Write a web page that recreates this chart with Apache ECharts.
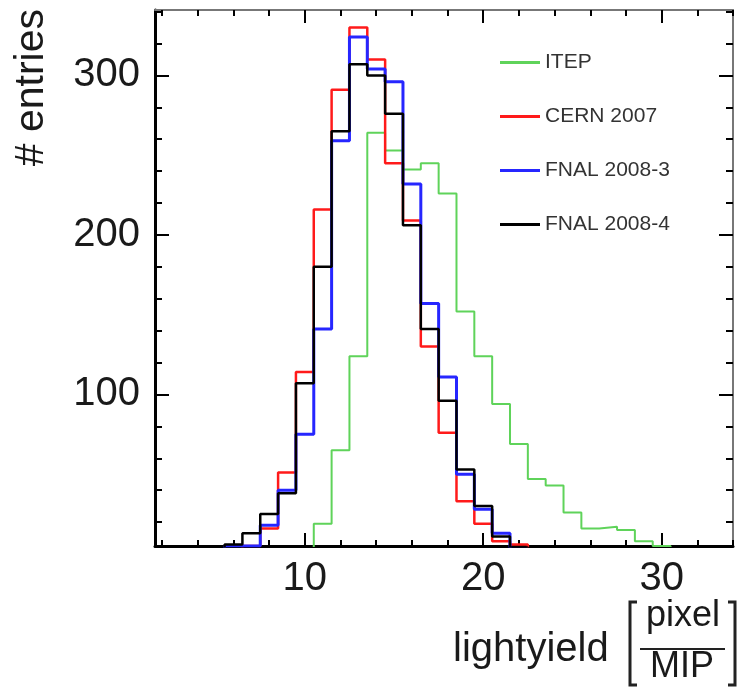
<!DOCTYPE html>
<html>
<head>
<meta charset="utf-8">
<script src="https://cdn.jsdelivr.net/npm/echarts@6/dist/echarts.min.js"></script>
<style>
  html, body { margin: 0; padding: 0; background: #fff; }
  #main { width: 739px; height: 687px; }
</style>
</head>
<body>
<div id="main"></div>
<script>
var chartDom = document.getElementById('main');
var myChart = echarts.init(chartDom);
var option;

// bin centres (bin width 1)
const binCenters = [5, 6, 7, 8, 9, 10, 11, 12, 13, 14, 15, 16, 17, 18, 19, 20,
  21, 22, 23, 24, 25, 26, 27, 28, 29, 30, 31, 32];
const itep = [0, 0, 0, 1, 1, 2, 19, 65, 124, 264, 253, 241, 245, 226, 152, 124,
  94, 69, 47, 43, 26, 16, 17, 15, 8, 5, 2, 0];
const cern2007 = [0, 2, 5, 16, 51, 114, 216, 291, 330, 310, 245, 209, 130, 76, 33, 19,
  8, 6, 0, 0, 0, 0, 0, 0, 0, 0, 0, 0];
const fnal2008_3 = [0, 5, 5, 18, 40, 75, 141, 259, 324, 304, 296, 232, 157, 111, 50, 28,
  13, 3, 0, 0, 0, 0, 0, 0, 0, 0, 0, 0];
const fnal2008_4 = [0, 6, 13, 25, 38, 107, 180, 265, 307, 300, 276, 206, 141, 96, 53, 30,
  11, 4, 0, 0, 0, 0, 0, 0, 0, 0, 0, 0];

const xMajor = [10, 20, 30];
const xMinor = [2, 4, 6, 8, 10, 12, 14, 16, 18, 20, 22, 24, 26, 28, 30, 32, 34];
const yMajor = [100, 200, 300];
const yMinor = [20, 40, 60, 80, 100, 120, 140, 160, 180, 200, 220, 240, 260, 280, 300, 320, 340];

const font = 'Liberation Sans, Arial, Helvetica, sans-serif';

function histData(vals) {
  const pts = binCenters.map((c, i) => [c - 0.5, vals[i]]);
  pts.push([binCenters[binCenters.length - 1] + 0.5, 0]);
  return pts;
}

function xAx(pos, ticks, len, lineShow, lineColor, lineWidth, labels) {
  return {
    type: 'value', position: pos, min: 1.6, max: 34,
    axisLine: { show: lineShow, onZero: false, lineStyle: { color: lineColor, width: lineWidth } },
    axisTick: { show: true, inside: true, length: len, customValues: ticks,
      lineStyle: { color: '#000', width: 2 } },
    axisLabel: labels ? { show: true, customValues: xMajor, fontSize: 40, margin: 13,
      color: '#1a1a1a', fontFamily: font } : { show: false },
    splitLine: { show: false }
  };
}

function yAx(pos, ticks, len, lineShow, lineColor, lineWidth, labels) {
  return {
    type: 'value', position: pos, min: 5, max: 341,
    axisLine: { show: lineShow, onZero: false, lineStyle: { color: lineColor, width: lineWidth } },
    axisTick: { show: true, inside: true, length: len, customValues: ticks,
      lineStyle: { color: '#000', width: 2 } },
    axisLabel: labels ? { show: true, customValues: yMajor, fontSize: 40, margin: 15,
      padding: [8, 0, 0, 0], color: '#1a1a1a', fontFamily: font } : { show: false },
    splitLine: { show: false }
  };
}

function line(name, vals, color, width) {
  return {
    name: name, type: 'line', step: 'end', symbol: 'none',
    xAxisIndex: 0, yAxisIndex: 0,
    lineStyle: { color: color, width: width },
    itemStyle: { color: color },
    data: histData(vals)
  };
}

option = {
  animation: false,
  backgroundColor: '#fff',
  grid: { left: 155, right: 6, top: 10, bottom: 141 },
  legend: {
    orient: 'vertical', left: 495, top: 47,
    icon: 'rect', itemWidth: 40, itemHeight: 3, itemGap: 33,
    textStyle: { fontSize: 21, lineHeight: 21, color: '#333', fontFamily: font },
    data: ['ITEP', 'CERN 2007', 'FNAL 2008-3', 'FNAL 2008-4']
  },
  xAxis: [
    xAx('bottom', xMajor, 13, true, '#000', 3, true),
    xAx('bottom', xMinor, 6, false, '#000', 3, false),
    xAx('top', xMajor, 13, true, '#777', 2, false),
    xAx('top', xMinor, 6, false, '#777', 2, false)
  ],
  yAxis: [
    yAx('left', yMajor, 14, true, '#000', 3, true),
    yAx('left', yMinor, 7, false, '#000', 3, false),
    yAx('right', yMajor, 14, true, '#777', 2, false),
    yAx('right', yMinor, 7, false, '#777', 2, false)
  ],
  graphic: [
    { type: 'text', x: 32, y: 9, rotation: Math.PI / 2,
      style: { text: '# entries', fontSize: 41, fontFamily: font, fill: '#1a1a1a',
        align: 'right', verticalAlign: 'middle' } },
    { type: 'text', x: 453, y: 650,
      style: { text: 'lightyield', fontSize: 40, fontFamily: font, fill: '#1a1a1a',
        align: 'left', verticalAlign: 'middle' } },
    { type: 'polyline', shape: { points: [[637, 602], [630, 602], [630, 685], [637, 685]] },
      style: { stroke: '#222', lineWidth: 3, fill: null } },
    { type: 'polyline', shape: { points: [[728, 602], [735, 602], [735, 685], [728, 685]] },
      style: { stroke: '#222', lineWidth: 3, fill: null } },
    { type: 'text', x: 683, y: 616,
      style: { text: 'pixel', fontSize: 36, fontFamily: font, fill: '#1a1a1a',
        align: 'center', verticalAlign: 'middle' } },
    { type: 'line', shape: { x1: 640, y1: 649, x2: 725, y2: 649 },
      style: { stroke: '#222', lineWidth: 2 } },
    { type: 'text', x: 682, y: 667,
      style: { text: 'MIP', fontSize: 36, fontFamily: font, fill: '#1a1a1a',
        align: 'center', verticalAlign: 'middle' } }
  ],
  series: [
    line('ITEP', itep, '#5fd35a', 2),
    line('CERN 2007', cern2007, '#ff1a1a', 2.5),
    line('FNAL 2008-3', fnal2008_3, '#2626ff', 3),
    line('FNAL 2008-4', fnal2008_4, '#000000', 2.5)
  ]
};

option && myChart.setOption(option);
</script>
</body>
</html>
